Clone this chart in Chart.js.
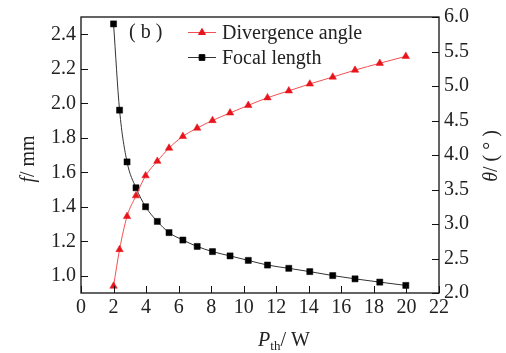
<!DOCTYPE html>
<html>
<head>
<meta charset="utf-8">
<script src="https://cdn.jsdelivr.net/npm/chart.js@4.4.1/dist/chart.umd.min.js"></script>
<style>
  html, body { margin: 0; padding: 0; background: #fff; }
  canvas { display: block; }
  #fontwarm { position: absolute; left: -9999px; top: 0; font-family: "Liberation Serif"; font-size: 20px; }
</style>
</head>
<body>
<canvas id="c" width="506" height="353"></canvas>
<div id="fontwarm">0123456789 <i>fPθ</i> Divergence angle Focal length</div>
<script>
// Threshold pump power P_th (W)
const power = [2.0, 2.37, 2.83, 3.38, 3.97, 4.69, 5.41, 6.26, 7.14, 8.08, 9.16, 10.28, 11.46, 12.77, 14.06, 15.47, 16.84, 18.36, 19.96];
// Focal length f (mm), left axis
const focalLength = [2.46, 1.96, 1.66, 1.51, 1.40, 1.315, 1.25, 1.207, 1.17, 1.14, 1.115, 1.089, 1.062, 1.043, 1.024, 1.001, 0.982, 0.963, 0.944];
// Divergence angle θ (°), right axis
const divergence = [2.10, 2.63, 3.11, 3.41, 3.70, 3.91, 4.10, 4.27, 4.39, 4.50, 4.61, 4.72, 4.83, 4.93, 5.03, 5.13, 5.23, 5.33, 5.43];

const xTicks = [0, 2, 4, 6, 8, 10, 12, 14, 16, 18, 20, 22];
const fTicks = [1.0, 1.2, 1.4, 1.6, 1.8, 2.0, 2.2, 2.4];
const thetaTicks = [2.0, 2.5, 3.0, 3.5, 4.0, 4.5, 5.0, 5.5, 6.0];

const SERIF = '"Liberation Serif", serif';
const TEXT = '#222';
const RED = '#e8141c';
const RED_LINE = '#f25050';
const BLACK = '#000';

function setTicks(list) {
  return scale => { scale.ticks = list.map(v => ({ value: v })); };
}

// Frame, inward tick marks, axis titles, legend and panel tag
const decorations = {
  id: 'decorations',
  afterDraw(chart) {
    const { ctx, chartArea: a, scales } = chart;
    ctx.save();
    ctx.strokeStyle = '#111';
    ctx.lineWidth = 1.3;
    ctx.strokeRect(a.left, a.top, a.right - a.left, a.bottom - a.top);

    const TL = 7;
    ctx.lineWidth = 1;
    ctx.beginPath();
    xTicks.forEach(v => {
      const px = Math.round(scales.x.getPixelForValue(v)) + 0.5;
      ctx.moveTo(px, a.bottom); ctx.lineTo(px, a.bottom - TL);
    });
    fTicks.forEach(v => {
      const py = Math.round(scales.y.getPixelForValue(v)) + 0.5;
      ctx.moveTo(a.left, py); ctx.lineTo(a.left + TL, py);
    });
    thetaTicks.forEach(v => {
      const py = Math.round(scales.y1.getPixelForValue(v)) + 0.5;
      ctx.moveTo(a.right, py); ctx.lineTo(a.right - TL, py);
    });
    ctx.stroke();

    ctx.fillStyle = TEXT;
    ctx.textBaseline = 'middle';

    // draws a run of [text, font, dy] pieces centred at the origin
    function runs(parts, cx, cy) {
      let total = 0;
      parts.forEach(p => { ctx.font = p[1]; total += ctx.measureText(p[0]).width; });
      let x = cx - total / 2;
      ctx.textAlign = 'left';
      parts.forEach(p => {
        ctx.font = p[1];
        ctx.fillText(p[0], x, cy + (p[2] || 0));
        x += ctx.measureText(p[0]).width;
      });
    }

    // left axis title
    ctx.save();
    ctx.translate(29, 159);
    ctx.rotate(-Math.PI / 2);
    runs([['f', 'italic 20px ' + SERIF], ['/ mm', '20px ' + SERIF]], 0, 0);
    ctx.restore();

    // right axis title
    ctx.save();
    ctx.translate(492, 156);
    ctx.rotate(-Math.PI / 2);
    runs([['θ', 'italic 20px ' + SERIF], ['/ ( ° )', '20px ' + SERIF]], 0, 0);
    ctx.restore();

    // x axis title
    ctx.textBaseline = 'alphabetic';
    runs([['P', 'italic 20px ' + SERIF], ['th', '13px ' + SERIF, 4], ['/ W', '20px ' + SERIF]], 284, 346);

    // panel tag
    ctx.textBaseline = 'middle';
    ctx.font = '20px ' + SERIF;
    ctx.textAlign = 'left';
    ctx.fillText('( b )', 129, 33);

    // legend
    const items = [
      { ds: chart.data.datasets[0], y: 32.5 },
      { ds: chart.data.datasets[1], y: 57.5 }
    ];
    items.forEach(it => {
      ctx.strokeStyle = it.ds.borderColor;
      ctx.lineWidth = 1;
      ctx.beginPath();
      ctx.moveTo(188, it.y); ctx.lineTo(216, it.y);
      ctx.stroke();
      ctx.fillStyle = it.ds.pointBackgroundColor;
      ctx.strokeStyle = it.ds.pointBorderColor;
      Chart.helpers.drawPoint(ctx, { pointStyle: it.ds.pointStyle, radius: 4, borderWidth: 0.5, rotation: 0 }, 202, it.y);
      ctx.fillStyle = TEXT;
      ctx.font = '20px ' + SERIF;
      ctx.fillText(it.ds.label, 222, it.y + 1);
    });
    ctx.restore();
  }
};

const tickFont = { family: SERIF, size: 20 };

function draw() {
  new Chart(document.getElementById('c'), {
    type: 'line',
    data: {
      datasets: [
        {
          label: 'Divergence angle',
          data: power.map((x, i) => ({ x, y: divergence[i] })),
          yAxisID: 'y1',
          borderColor: RED_LINE,
          borderWidth: 1,
          pointStyle: 'triangle',
          pointRadius: 4.3,
          pointBackgroundColor: RED,
          pointBorderColor: RED,
          pointBorderWidth: 0.5,
          cubicInterpolationMode: 'monotone'
        },
        {
          label: 'Focal length',
          data: power.map((x, i) => ({ x, y: focalLength[i] })),
          yAxisID: 'y',
          borderColor: '#333',
          borderWidth: 1,
          pointStyle: 'rect',
          pointRadius: 4.3,
          pointBackgroundColor: BLACK,
          pointBorderColor: BLACK,
          pointBorderWidth: 0.5,
          cubicInterpolationMode: 'monotone'
        }
      ]
    },
    options: {
      responsive: false,
      animation: false,
      layout: { padding: { top: 13, left: 0, right: 0, bottom: 0 } },
      plugins: { legend: { display: false }, tooltip: { enabled: false } },
      scales: {
        x: {
          type: 'linear', min: 0, max: 22,
          afterBuildTicks: setTicks(xTicks),
          afterFit(s) { s.height = 60; },
          grid: { display: false, drawTicks: false },
          border: { display: false },
          ticks: { font: tickFont, color: TEXT, padding: 3, maxRotation: 0, autoSkip: false, callback: v => String(v) }
        },
        y: {
          position: 'left', min: 0.9, max: 2.5,
          afterBuildTicks: setTicks(fTicks),
          afterFit(s) { s.width = 81; },
          grid: { display: false, drawTicks: false },
          border: { display: false },
          ticks: { font: tickFont, color: TEXT, padding: 5, autoSkip: false, callback: v => v.toFixed(1) }
        },
        y1: {
          position: 'right', min: 2, max: 6,
          afterBuildTicks: setTicks(thetaTicks),
          afterFit(s) { s.width = 67; },
          grid: { display: false, drawTicks: false },
          border: { display: false },
          ticks: { font: tickFont, color: TEXT, padding: 5, autoSkip: false, callback: v => v.toFixed(1) }
        }
      }
    },
    plugins: [decorations]
  });
}

Promise.all([
  document.fonts.load('20px "Liberation Serif"'),
  document.fonts.load('italic 20px "Liberation Serif"')
]).then(draw, draw);
</script>
</body>
</html>
